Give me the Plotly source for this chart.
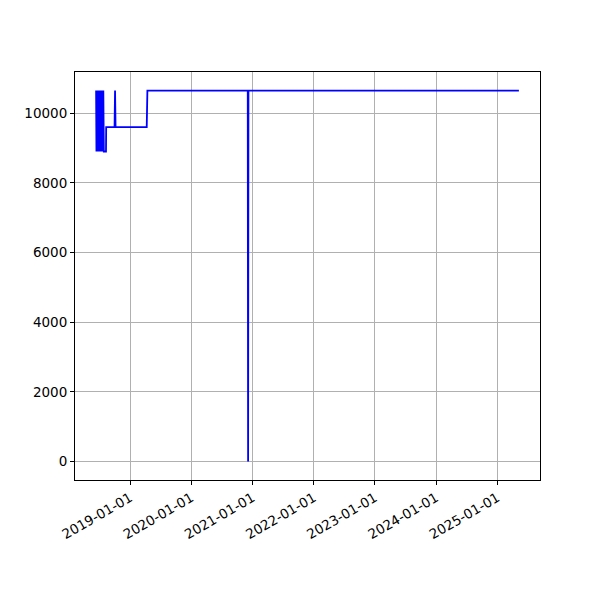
import plotly.graph_objects as go

dates = [
    "2018-06-12", "2018-06-14", "2018-06-17", "2018-06-20", "2018-06-24",
    "2018-06-27", "2018-07-01", "2018-07-04", "2018-07-08", "2018-07-12",
    "2018-07-16", "2018-07-20", "2018-07-25", "2018-07-28", "2018-08-10",
    "2018-08-11", "2018-09-30", "2018-10-03", "2018-10-06", "2019-04-10",
    "2019-04-14", "2020-12-03", "2020-12-05", "2020-12-07", "2025-05-09",
]
values = [
    10650, 8900, 10650, 8900, 10650,
    8900, 10650, 8900, 10650, 8900,
    10650, 8900, 10650, 8900, 8900,
    9600, 9600, 10650, 9600, 9600,
    10650, 10650, 0, 10650, 10650,
]
x_range = ["2018-02-06", "2025-09-12"]
y_range = [-532.5, 11182.5]
y_ticks = [0, 2000, 4000, 6000, 8000, 10000]

fig = go.Figure(go.Scatter(x=dates, y=values, mode="lines",
                           line=dict(color="blue", width=1.8), hoverinfo="skip"))

axis_common = dict(
    showline=True, linecolor="black", linewidth=1, mirror=True,
    showgrid=True, gridcolor="#b0b0b0", gridwidth=0.8,
    ticks="outside", ticklen=4, tickcolor="black", tickwidth=1,
    zeroline=False,
    tickfont=dict(family="DejaVu Sans", size=13.5, color="black"),
)

fig.update_layout(
    width=600, height=600,
    margin=dict(l=67, r=68, t=64, b=128),
    paper_bgcolor="white", plot_bgcolor="white",
    showlegend=False,
    font=dict(family="DejaVu Sans", size=13.5, color="black"),
    xaxis=dict(type="date", range=x_range, tick0="2019-01-01", dtick="M12",
               tickformat="%Y-%m-%d", tickangle=-30, **axis_common),
    yaxis=dict(range=y_range, tickvals=y_ticks, tickformat="d", **axis_common),
)

fig.write_html("out.html")
